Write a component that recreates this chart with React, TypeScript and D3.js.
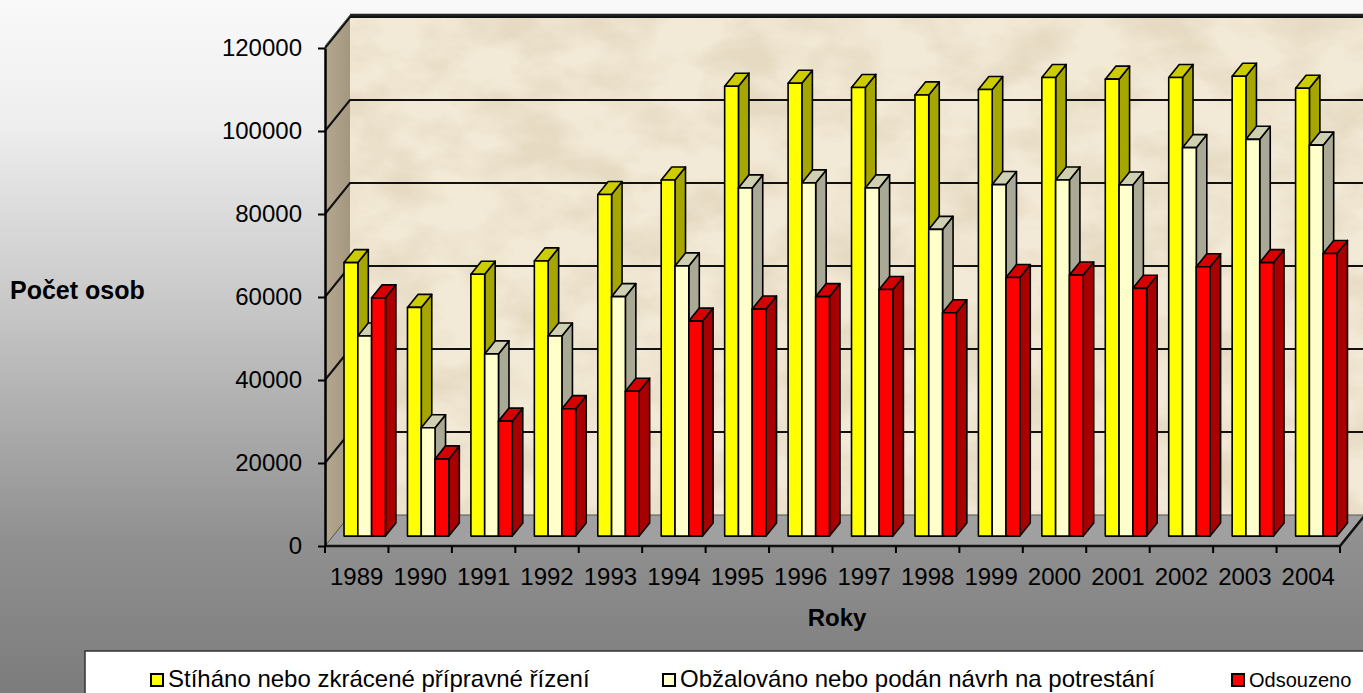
import React, { useEffect, useRef } from 'react'
import * as d3 from 'd3'

const years = ['1989', '1990', '1991', '1992', '1993', '1994', '1995', '1996', '1997', '1998', '1999', '2000', '2001', '2002', '2003', '2004']
const seriesNames = [
  'Stíháno nebo zkrácené přípravné řízení',
  'Obžalováno nebo podán návrh na potrestání',
  'Odsouzeno',
]
const stihano = [65900, 55100, 63100, 66300, 82300, 85800, 108400, 109100, 108100, 106300, 107600, 110500, 110100, 110500, 110800, 107900]
const obzalovano = [48200, 26100, 43900, 48200, 57700, 65100, 83900, 85100, 83900, 73900, 84700, 85800, 84600, 93600, 95600, 94200]
const odsouzeno = [57400, 18600, 27700, 30700, 34900, 51800, 54700, 57700, 59400, 53800, 62300, 62900, 59700, 64900, 65900, 68100]
const yTicks = [0, 20000, 40000, 60000, 80000, 100000, 120000]

const faceColors = [
  { front: '#ffff00', top: '#cccc00', side: '#a6a600' },
  { front: '#ffffcc', top: '#cfcfb2', side: '#a9a995' },
  { front: '#ff0000', top: '#d60000', side: '#a80000' },
]

const FONT = '"Liberation Sans", Arial, sans-serif'

function App() {
  const ref = useRef<SVGSVGElement>(null)

  useEffect(() => {
    const svgWidth = 1363
    const svgHeight = 693
    const x0 = 325
    const w = 1015
    const dx = 25
    const dy = 31
    const barFront = 0.32
    const barBack = 0.74

    const svg = d3.select(ref.current)
    svg.selectAll('*').remove()
    svg.attr('width', svgWidth).attr('height', svgHeight)

    const defs = svg.append('defs')
    const bg = defs
      .append('linearGradient')
      .attr('id', 'bg')
      .attr('x1', 0)
      .attr('y1', 0)
      .attr('x2', 0)
      .attr('y2', 1)
    bg.append('stop').attr('offset', '0').attr('stop-color', '#f9f9f9')
    bg.append('stop').attr('offset', '0.18').attr('stop-color', '#eeeeee')
    bg.append('stop').attr('offset', '0.45').attr('stop-color', '#c6c6c6')
    bg.append('stop').attr('offset', '0.78').attr('stop-color', '#909090')
    bg.append('stop').attr('offset', '1').attr('stop-color', '#7c7c7c')

    // parchment texture for the back wall
    const filter = defs
      .append('filter')
      .attr('id', 'parchment')
      .attr('x', 0)
      .attr('y', 0)
      .attr('width', 1)
      .attr('height', 1)
    filter
      .append('feTurbulence')
      .attr('type', 'fractalNoise')
      .attr('baseFrequency', '0.014 0.022')
      .attr('numOctaves', 5)
      .attr('seed', 7)
      .attr('result', 'noise')
    filter
      .append('feColorMatrix')
      .attr('in', 'noise')
      .attr('type', 'matrix')
      .attr('values', '0 0 0 0 0.79  0 0 0 0 0.70  0 0 0 0 0.54  2.6 0 0 0 -1.0')
      .attr('result', 'spots')
    filter
      .append('feComposite')
      .attr('in', 'spots')
      .attr('in2', 'SourceGraphic')
      .attr('operator', 'in')

    const sideWall = defs
      .append('linearGradient')
      .attr('id', 'sidewall')
      .attr('x1', 0)
      .attr('y1', 0)
      .attr('x2', 1)
      .attr('y2', 0)
    sideWall.append('stop').attr('offset', '0').attr('stop-color', '#b4a88f')
    sideWall.append('stop').attr('offset', '1').attr('stop-color', '#a39780')

    svg.append('rect').attr('width', svgWidth).attr('height', svgHeight).attr('fill', 'url(#bg)')

    const x = d3.scaleBand<string>().domain(years).range([0, w]).padding(0)
    const xInner = d3
      .scaleBand<number>()
      .domain([0, 1, 2])
      .range([0, x.bandwidth()])
      .paddingInner(0)
      .paddingOuter(0.8)
    const y = d3.scaleLinear().domain([0, 120000]).range([546, 48])

    const px = (xx: number, d: number) => x0 + xx + dx * d
    const py = (v: number, d: number) => y(v) - dy * d
    const pts = (arr: [number, number][]) => arr.map(p => p.join(',')).join(' ')

    const wallTop = py(120000, 1) - 2
    // back wall
    const wallW = w + 30
    svg
      .append('rect')
      .attr('x', px(0, 1))
      .attr('y', wallTop)
      .attr('width', wallW)
      .attr('height', py(0, 1) - wallTop)
      .attr('fill', '#f2e9d6')
    svg
      .append('rect')
      .attr('x', px(0, 1))
      .attr('y', wallTop)
      .attr('width', wallW)
      .attr('height', py(0, 1) - wallTop)
      .attr('fill', '#000')
      .attr('filter', 'url(#parchment)')

    // left wall
    svg
      .append('polygon')
      .attr(
        'points',
        pts([
          [px(0, 0), py(120000, 0) - 2],
          [px(0, 1), wallTop],
          [px(0, 1), py(0, 1)],
          [px(0, 0), py(0, 0)],
        ])
      )
      .attr('fill', 'url(#sidewall)')

    // floor
    svg
      .append('polygon')
      .attr(
        'points',
        pts([
          [px(0, 0), py(0, 0)],
          [px(w, 0), py(0, 0)],
          [px(w, 1), py(0, 1)],
          [px(0, 1), py(0, 1)],
        ])
      )
      .attr('fill', '#a0a0a0')
      .attr('stroke', '#555')
      .attr('stroke-width', 1)

    // gridlines
    const grid = svg.append('g').attr('stroke', '#111').attr('stroke-width', 2).attr('fill', 'none')
    yTicks.forEach(t => {
      if (t > 0) {
        grid
          .append('polyline')
          .attr('points', pts([[px(0, 0), py(t, 0)], [px(0, 1), py(t, 1)], [px(0, 1) + wallW, py(t, 1)]]))
      }
    })
    grid
      .append('line')
      .attr('x1', px(0, 1))
      .attr('x2', px(0, 1) + wallW)
      .attr('y1', wallTop)
      .attr('y2', wallTop)
      .attr('stroke-width', 2.5)
      .attr('stroke', '#222')
    grid
      .append('line')
      .attr('x1', px(0, 0))
      .attr('y1', py(120000, 0) - 2)
      .attr('x2', px(0, 1))
      .attr('y2', wallTop)
      .attr('stroke', '#555')
      .attr('stroke-width', 1)

    // bars
    const series = [stihano, obzalovano, odsouzeno]
    const bars = svg.append('g').attr('stroke', '#000').attr('stroke-width', 1.6).attr('stroke-linejoin', 'round')
    const bw = xInner.bandwidth()
    years.forEach((yr, i) => {
      series.forEach((vals, s) => {
        const v = vals[i]
        const left = (x(yr) as number) + (xInner(s) as number)
        const c = faceColors[s]
        const fl = px(left, barFront)
        const fr = px(left + bw, barFront)
        const bl = px(left, barBack)
        const br = px(left + bw, barBack)
        const tf = py(v, barFront)
        const tb = py(v, barBack)
        const gf = py(0, barFront)
        const gb = py(0, barBack)
        bars
          .append('polygon')
          .attr('points', pts([[fr, tf], [br, tb], [br, gb], [fr, gf]]))
          .attr('fill', c.side)
        bars
          .append('polygon')
          .attr('points', pts([[fl, tf], [fr, tf], [br, tb], [bl, tb]]))
          .attr('fill', c.top)
        bars
          .append('rect')
          .attr('x', fl)
          .attr('y', tf)
          .attr('width', bw)
          .attr('height', gf - tf)
          .attr('fill', c.front)
      })
    })

    // floor front edge and right edge
    svg
      .append('polyline')
      .attr('points', pts([[px(0, 0), py(0, 0)], [px(w, 0), py(0, 0)], [px(w, 1), py(0, 1)]]))
      .attr('fill', 'none')
      .attr('stroke', '#111')
      .attr('stroke-width', 2.5)

    // Y axis
    const yAxis = svg
      .append('g')
      .attr('transform', `translate(${x0}, 0)`)
      .call(
        d3
          .axisLeft(y)
          .tickValues(yTicks)
          .tickSize(7)
          .tickSizeOuter(0)
          .tickPadding(16)
          .tickFormat(d3.format('d'))
      )
    yAxis.select('.domain').attr('stroke', '#000').attr('stroke-width', 2.5)
    yAxis.selectAll('.tick line').attr('stroke', '#000').attr('stroke-width', 2)
    yAxis
      .selectAll('.tick text')
      .attr('fill', '#000')
      .attr('font-size', 24)
      .attr('font-family', FONT)

    // X axis ticks at category boundaries
    const xt = svg.append('g').attr('stroke', '#000').attr('stroke-width', 2)
    years.concat(['end']).forEach((yr, i) => {
      const xx = i < years.length ? (x(yr) as number) : w
      xt.append('line')
        .attr('x1', px(xx, 0))
        .attr('x2', px(xx, 0))
        .attr('y1', py(0, 0))
        .attr('y2', py(0, 0) + 7)
    })
    svg
      .append('g')
      .selectAll('text')
      .data(years)
      .enter()
      .append('text')
      .attr('x', d => px((x(d) as number) + x.bandwidth() / 2, 0))
      .attr('y', 585)
      .attr('text-anchor', 'middle')
      .attr('font-size', 24)
      .attr('font-family', FONT)
      .text(d => d)

    // axis titles
    svg
      .append('text')
      .attr('x', 837)
      .attr('y', 626)
      .attr('text-anchor', 'middle')
      .attr('font-size', 24)
      .attr('font-weight', 'bold')
      .attr('font-family', FONT)
      .text('Roky')
    svg
      .append('text')
      .attr('x', 10)
      .attr('y', 299)
      .attr('font-size', 25)
      .attr('font-weight', 'bold')
      .attr('font-family', FONT)
      .text('Počet osob')

    // legend
    svg
      .append('rect')
      .attr('x', 85)
      .attr('y', 651)
      .attr('width', 1320)
      .attr('height', 60)
      .attr('fill', '#fff')
      .attr('stroke', '#333')
      .attr('stroke-width', 1.5)
    const legendX = [151, 663, 1232]
    const legend = svg
      .append('g')
      .selectAll('g')
      .data(seriesNames)
      .enter()
      .append('g')
      .attr('transform', (d, i) => `translate(${legendX[i]}, 674)`)
    legend
      .append('rect')
      .attr('width', 12)
      .attr('height', 12)
      .attr('fill', (d, i) => faceColors[i].front)
      .attr('stroke', '#000')
      .attr('stroke-width', 2)
    legend
      .append('text')
      .attr('x', 17)
      .attr('y', 13)
      .attr('font-size', 24)
      .attr('font-family', FONT)
      .text(d => d)
      .each(function (d, i) {
        // last item sits at the right edge: shrink it so it stays whole
        if (i === seriesNames.length - 1) {
          const room = svgWidth - legendX[i] - 17 - 8
          const len = (this as SVGTextElement).getComputedTextLength()
          if (len > room) {
            d3.select(this).attr('font-size', Math.floor((24 * room) / len))
          }
        }
      })
  }, [])

  return (
    <svg ref={ref} style={{ position: 'absolute', left: 0, top: 0, display: 'block' }}></svg>
  )
}

export default App
